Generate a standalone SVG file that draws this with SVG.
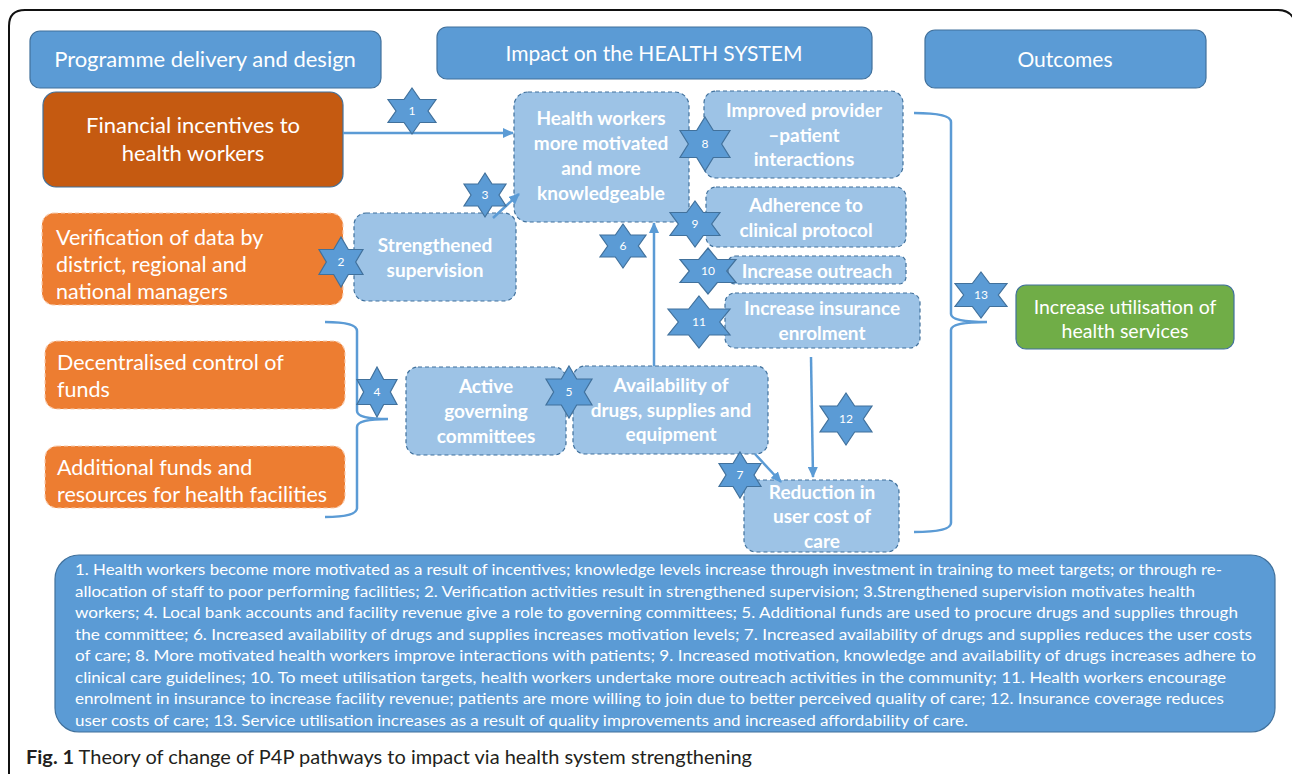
<svg xmlns="http://www.w3.org/2000/svg" width="1292" height="774" viewBox="0 0 1292 774">
<style>
.hdr{fill:#5b9bd5;stroke:#41719c;stroke-width:1.2}
.lb{fill:#9dc3e6;stroke:#41719c;stroke-width:1.2;stroke-dasharray:4 3}
.or{fill:#ed7d31;stroke:#f8cbad;stroke-width:1.2;stroke-dasharray:4 3}
.t{font-family:Lato,"Liberation Sans",sans-serif;fill:#fff}
.h{font-size:21px;text-anchor:middle}
.o{font-size:21.5px}
.b{font-size:19px;font-weight:bold;text-anchor:middle}
.n{font-size:12px;text-anchor:middle}
.lg{font-size:15.5px}
.c{fill:none;stroke:#5b9bd5;stroke-width:2.5}
.star{fill:#5b9bd5;stroke:#41719c;stroke-width:1.2}
</style>
<defs>
<marker id="ah" markerUnits="userSpaceOnUse" markerWidth="12" markerHeight="10" refX="10" refY="5" orient="auto">
<path d="M0,0 L11,5 L0,10 z" fill="#5b9bd5"/>
</marker>
<path id="s6" d="M0,-1 L0.333,-0.5 L1,-0.5 L0.667,0 L1,0.5 L0.333,0.5 L0,1 L-0.333,0.5 L-1,0.5 L-0.667,0 L-1,-0.5 L-0.333,-0.5 Z" vector-effect="non-scaling-stroke"/>
</defs>
<rect width="1292" height="774" fill="#fff"/>
<path d="M9,774 V26 Q9,10 25,10 H1278 Q1292,10 1296,24" fill="none" stroke="#111" stroke-width="2"/>

<g id="hdr-programme"><rect class="hdr" x="30" y="31" width="351" height="57" rx="10"/><text class="t h" x="205" y="67" style="font-size:22px">Programme delivery and design</text></g>
<g id="hdr-impact"><rect class="hdr" x="437" y="27" width="435" height="52" rx="10"/><text class="t h" x="654" y="61">Impact on the HEALTH SYSTEM</text></g>
<g id="hdr-outcomes"><rect class="hdr" x="925" y="30" width="281" height="58" rx="10"/><text class="t h" x="1065" y="67">Outcomes</text></g>

<g id="financial"><rect x="43" y="92" width="300" height="95" rx="13" fill="#c55a11" stroke="#41719c" stroke-width="1.2"/><text class="t h" x="193" y="133" style="font-size:22px">Financial incentives  to</text><text class="t h" x="193" y="161" style="font-size:22px">health workers</text></g>
<g id="verification"><rect class="or" x="42" y="213" width="301" height="92" rx="12"/><text class="t o" x="56" y="245">Verification of data by</text><text class="t o" x="56" y="272">district, regional and</text><text class="t o" x="56" y="299">national managers</text></g>
<g id="decentralised"><rect class="or" x="45" y="341" width="300" height="68" rx="12"/><text class="t o" x="57" y="370">Decentralised control of</text><text class="t o" x="57" y="397">funds</text></g>
<g id="additional"><rect class="or" x="45" y="446" width="300" height="62" rx="12"/><text class="t o" x="57" y="475">Additional funds and</text><text class="t o" x="57" y="502">resources for health facilities</text></g>

<g id="supervision"><rect class="lb" x="354" y="213" width="162" height="88" rx="12"/><text class="t b" x="435" y="252">Strengthened</text><text class="t b" x="435" y="277">supervision</text></g>
<g id="health-workers"><rect class="lb" x="514" y="92" width="175" height="130" rx="14"/><text class="t b" x="601" y="125">Health workers</text><text class="t b" x="601" y="150">more motivated</text><text class="t b" x="601" y="175">and more</text><text class="t b" x="601" y="200">knowledgeable</text></g>
<g id="provider"><rect class="lb" x="704" y="91" width="199" height="87" rx="12"/><text class="t b" x="804" y="117">Improved provider</text><text class="t b" x="804" y="142">–patient</text><text class="t b" x="804" y="166">interactions</text></g>
<g id="adherence"><rect class="lb" x="706" y="187" width="200" height="60" rx="10"/><text class="t b" x="806" y="212">Adherence to</text><text class="t b" x="806" y="237">clinical protocol</text></g>
<g id="outreach"><rect class="lb" x="728" y="256" width="178" height="28" rx="7"/><text class="t b" x="817" y="278">Increase outreach</text></g>
<g id="insurance"><rect class="lb" x="725" y="293" width="195" height="55" rx="10"/><text class="t b" x="822" y="315">Increase insurance</text><text class="t b" x="822" y="340">enrolment</text></g>
<g id="committees"><rect class="lb" x="406" y="367" width="160" height="88" rx="12"/><text class="t b" x="486" y="393">Active</text><text class="t b" x="486" y="418">governing</text><text class="t b" x="486" y="443">committees</text></g>
<g id="availability"><rect class="lb" x="573" y="366" width="195" height="88" rx="12"/><text class="t b" x="671" y="392">Availability of</text><text class="t b" x="671" y="417">drugs, supplies and</text><text class="t b" x="671" y="441">equipment</text></g>
<g id="reduction"><rect class="lb" x="744" y="480" width="155" height="72" rx="12"/><text class="t b" x="822" y="499">Reduction in</text><text class="t b" x="822" y="523">user cost of</text><text class="t b" x="822" y="548">care</text></g>
<g id="utilisation"><rect x="1016" y="285" width="218" height="64" rx="10" fill="#70ad47" stroke="#41719c" stroke-width="1.2"/><text class="t h" x="1125" y="314" style="font-size:19.5px">Increase utilisation of</text><text class="t h" x="1125" y="338" style="font-size:19.5px">health services</text></g>

<g id="connectors">
<line class="c" x1="343" y1="133" x2="513" y2="133" marker-end="url(#ah)"/>
<line class="c" x1="493" y1="218" x2="519" y2="194" marker-end="url(#ah)"/>
<line class="c" x1="654" y1="366" x2="654" y2="223" marker-end="url(#ah)"/>
<line class="c" x1="811" y1="357" x2="813" y2="477" marker-end="url(#ah)"/>
<line class="c" x1="755" y1="454" x2="781" y2="482" marker-end="url(#ah)"/>
<path class="c" d="M325,322 Q357,322 357,331 V411 Q357,419 388,419 M388,419 Q357,419 357,427 V508 Q357,517 325,517"/>
<path class="c" d="M914,113 Q951,113 951,122 V314 Q951,322 987,322 M987,322 Q951,322 951,330 V523 Q951,532 914,532"/>
</g>

<g id="step-labels">
<g id="s1"><use href="#s6" class="star" transform="translate(412,111) scale(24,23)"/><text class="t n" x="412" y="115">1</text></g>
<g id="s2"><use href="#s6" class="star" transform="translate(341,262) scale(22,25)"/><text class="t n" x="341" y="266">2</text></g>
<g id="s3"><use href="#s6" class="star" transform="translate(485,195) scale(21,22)"/><text class="t n" x="485" y="199">3</text></g>
<g id="s4"><use href="#s6" class="star" transform="translate(377,392) scale(20,25)"/><text class="t n" x="377" y="396">4</text></g>
<g id="s5"><use href="#s6" class="star" transform="translate(569,392) scale(23,26)"/><text class="t n" x="569" y="396">5</text></g>
<g id="s6g"><use href="#s6" class="star" transform="translate(623,246) scale(23,22)"/><text class="t n" x="623" y="250">6</text></g>
<g id="s7"><use href="#s6" class="star" transform="translate(740,475) scale(21,23)"/><text class="t n" x="740" y="479">7</text></g>
<g id="s8"><use href="#s6" class="star" transform="translate(705,144) scale(25,27)"/><text class="t n" x="705" y="148">8</text></g>
<g id="s9"><use href="#s6" class="star" transform="translate(695,224) scale(25,23)"/><text class="t n" x="695" y="228">9</text></g>
<g id="s10"><use href="#s6" class="star" transform="translate(708,271) scale(28,23)"/><text class="t n" x="708" y="275">10</text></g>
<g id="s11"><use href="#s6" class="star" transform="translate(699,322) scale(31,26)"/><text class="t n" x="699" y="326">11</text></g>
<g id="s12"><use href="#s6" class="star" transform="translate(846,419) scale(26,26)"/><text class="t n" x="846" y="423">12</text></g>
<g id="s13"><use href="#s6" class="star" transform="translate(981,295) scale(26,23)"/><text class="t n" x="981" y="299">13</text></g>
</g>

<g id="legend">
<rect x="55" y="555" width="1220" height="177" rx="24" fill="#5b9bd5" stroke="#41719c" stroke-width="1.2"/>
<text class="t lg" x="75" y="575" textLength="1147" lengthAdjust="spacingAndGlyphs">1. Health workers become more motivated as a result of incentives; knowledge levels increase through investment in training to meet targets; or through re-</text>
<text class="t lg" x="75" y="596.5" textLength="1120" lengthAdjust="spacingAndGlyphs">allocation of staff to poor performing facilities;  2. Verification activities result in strengthened supervision;  3.Strengthened supervision motivates health</text>
<text class="t lg" x="75" y="618" textLength="1163" lengthAdjust="spacingAndGlyphs">workers;   4. Local bank accounts and facility revenue give a role to governing committees;   5. Additional funds are used to procure drugs and supplies through</text>
<text class="t lg" x="75" y="639.5" textLength="1177" lengthAdjust="spacingAndGlyphs">the committee;   6. Increased availability of drugs and supplies increases motivation levels;   7. Increased availability of drugs and supplies reduces the user costs</text>
<text class="t lg" x="75" y="661" textLength="1181" lengthAdjust="spacingAndGlyphs">of care;   8. More motivated health workers improve interactions with patients;   9. Increased motivation, knowledge and availability of drugs increases adhere to</text>
<text class="t lg" x="75" y="682.5" textLength="1151" lengthAdjust="spacingAndGlyphs">clinical care guidelines;   10. To meet utilisation targets, health workers undertake more outreach activities in the community;   11. Health workers encourage</text>
<text class="t lg" x="75" y="704" textLength="1149" lengthAdjust="spacingAndGlyphs">enrolment in insurance to increase facility revenue; patients are more willing to join due to better perceived quality of care;   12. Insurance coverage reduces</text>
<text class="t lg" x="75" y="725.5" textLength="893" lengthAdjust="spacingAndGlyphs">user costs of care;   13. Service utilisation increases as a result of quality improvements and increased affordability of care.</text>
</g>

<text x="26" y="764" textLength="726" lengthAdjust="spacingAndGlyphs" style="font-family:Lato,'Liberation Sans',sans-serif;font-size:19px;fill:#231f20"><tspan font-weight="bold">Fig. 1</tspan> Theory of change of P4P pathways to impact via health system strengthening</text>
</svg>
